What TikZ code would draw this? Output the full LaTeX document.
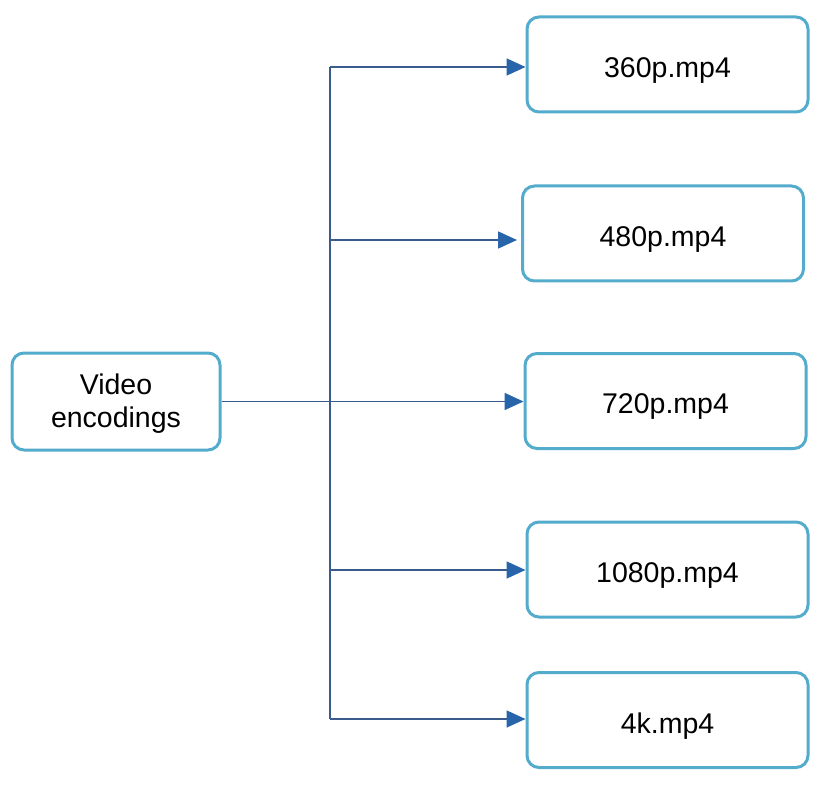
\documentclass[tikz,border=0pt]{standalone}
\usepackage{fontspec}
\setmainfont{Liberation Sans}
\usetikzlibrary{arrows.meta}
\definecolor{boxline}{RGB}{84,172,204}
\definecolor{conn}{RGB}{58,92,140}
\definecolor{tip}{RGB}{40,100,170}
\newcommand\lowtext[1]{\raisebox{-6pt}[\height][\depth]{#1}}
\begin{document}
\begin{tikzpicture}[x=1pt,y=-1pt,
  box/.style={draw=boxline,line width=3pt,rounded corners=12pt,fill=white,
    minimum width=281pt,minimum height=95pt,inner sep=0pt,align=center,
    font=\fontsize{28.5}{33}\selectfont},
  srcbox/.style={box,minimum width=208pt,minimum height=97pt},
  conline/.style={draw=conn,line width=1.7pt},
  arr/.style={conline,-{Triangle[length=19pt,width=17pt,fill=tip,color=tip]}}]
\useasboundingbox (0,0) rectangle (828,805);
\node[srcbox] (src) at (116,401.5) {\raisebox{-3pt}[\height][\depth]{\begin{tabular}{@{}c@{}}Video\\encodings\end{tabular}}};
\node[box] (b1) at (667.5,64.5) {\lowtext{360p.mp4}};
\node[box] (b2) at (663,233.5) {\lowtext{480p.mp4}};
\node[box] (b3) at (665.5,401) {\lowtext{720p.mp4}};
\node[box] (b4) at (667.5,569.5) {\lowtext{1080p.mp4}};
\node[box] (b5) at (667.5,720) {\lowtext{4k.mp4}};
\coordinate (t1) at (330,67);
\coordinate (t2) at (330,240);
\coordinate (t4) at (330,570);
\coordinate (t5) at (330,719);
\draw[conline] (t1) -- (t5);
\draw[arr] (t1) -- (t1 -| b1.west);
\draw[arr] (t2) -- ([xshift=-4pt]t2 -| b2.west);
\draw[arr] (src.east) -- (src.east -| b3.west);
\draw[arr] (t4) -- (t4 -| b4.west);
\draw[arr] (t5) -- (t5 -| b5.west);
\end{tikzpicture}
\end{document}
